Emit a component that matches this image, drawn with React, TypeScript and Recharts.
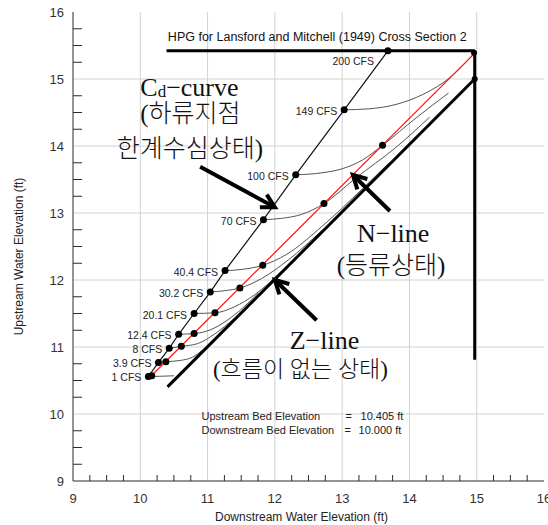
import { ComposedChart, Line, Scatter, XAxis, YAxis, ReferenceLine, ReferenceDot } from 'recharts';

// flow rates with critical-depth (Cd) points and normal-depth (N) points
const flows = ['1 CFS', '3.9 CFS', '8 CFS', '12.4 CFS', '20.1 CFS', '30.2 CFS', '40.4 CFS', '70 CFS', '100 CFS', '149 CFS', '200 CFS'];
const criticalX = [10.12, 10.27, 10.43, 10.57, 10.8, 11.04, 11.26, 11.83, 12.31, 13.03, 13.68];
const criticalY = [10.56, 10.77, 10.98, 11.19, 11.5, 11.82, 12.14, 12.9, 13.57, 14.54, 15.42];
const normalX = [10.17, 10.38, 10.61, 10.8, 11.11, 11.48, 11.82, 12.73, 13.6];
const normalY = [10.57, 10.78, 11.01, 11.2, 11.51, 11.88, 12.22, 13.14, 14.01];

// HPG curves, one per flow
const curve1 = [[10.12, 10.56], [10.17, 10.56], [10.35, 10.565], [10.5, 10.57]];
const curve3_9 = [[10.27, 10.77], [10.38, 10.78], [10.6, 10.8], [10.78, 10.85], [10.92, 10.95]];
const curve8 = [[10.43, 10.98], [10.61, 11.01], [10.85, 11.05], [11.1, 11.19], [11.4, 11.43]];
const curve12_4 = [[10.57, 11.19], [10.8, 11.2], [11.05, 11.26], [11.35, 11.44], [11.75, 11.8]];
const curve20_1 = [[10.8, 11.5], [11.11, 11.51], [11.4, 11.6], [11.7, 11.78], [12.1, 12.13]];
const curve30_2 = [[11.04, 11.82], [11.25, 11.84], [11.48, 11.88], [11.8, 12.02], [12.2, 12.3], [12.7, 12.74]];
const curve40_4 = [[11.26, 12.14], [11.53, 12.16], [11.82, 12.22], [12.17, 12.38], [12.7, 12.8], [13.3, 13.36], [13.7, 13.75]];
const curve70 = [[11.83, 12.9], [12.1, 12.92], [12.4, 12.98], [12.73, 13.14], [13.2, 13.52], [13.8, 13.98], [14.3, 14.43]];
const curve100 = [[12.31, 13.57], [12.7, 13.6], [13.0, 13.66], [13.3, 13.79], [13.6, 14.01], [14.1, 14.42], [14.58, 14.79]];
const curve149 = [[13.03, 14.54], [13.4, 14.555], [13.8, 14.62], [14.2, 14.77], [14.6, 15.02], [14.96, 15.38]];

const nLine = [[10.15, 10.555], [14.96, 15.375]];
const zLine = [[10.405, 10.405], [14.97, 15.0]];
const roadLine = [[10.39, 15.42], [14.97, 15.42]];
const wallLine = [[14.97, 15.42], [14.97, 10.81]];
const extraDots = [[14.96, 15.39], [14.97, 15.0]];

const majorTicks = [9, 10, 11, 12, 13, 14, 15, 16];
const gridValues = [10, 11, 12, 13, 14, 15];

const ticks = majorTicks.flatMap((t) => (t < 16 ? [t, t + 0.25, t + 0.5, t + 0.75] : [t]));
const toPts = (arr: number[][]) => arr.map(([x, y]) => ({ x, y }));
const curves = [curve1, curve3_9, curve8, curve12_4, curve20_1, curve30_2, curve40_4, curve70, curve100, curve149].map(toPts);
const criticalPts = flows.map((label, i) => ({ x: criticalX[i], y: criticalY[i], label }));
const normalPts = normalX.map((x, i) => ({ x, y: normalY[i] }));

const SANS = '"Liberation Sans", Arial, sans-serif';
const SERIF = '"Liberation Serif", "Noto Sans CJK KR Light", "Noto Sans CJK KR DemiLight", "Noto Sans CJK KR", serif';
const AXIS = '#2a2a2a';

const BottomTick = ({ x, y, payload }: any) =>
  Number.isInteger(payload.value) ? (
    <text x={x} y={y + 17} textAnchor="middle" dominantBaseline="central" fontSize={13} fontFamily={SANS} fill="#333">
      {payload.value}
    </text>
  ) : (
    <line x1={x} x2={x} y1={y} y2={y - 6} stroke={AXIS} />
  );

const TopTick = ({ x, y, payload }: any) =>
  Number.isInteger(payload.value) ? <g /> : <line x1={x} x2={x} y1={y} y2={y + 6} stroke={AXIS} />;

const LeftTick = ({ x, y, payload }: any) =>
  Number.isInteger(payload.value) ? (
    <text x={x - 9} y={y} textAnchor="end" dominantBaseline="central" fontSize={13} fontFamily={SANS} fill="#333">
      {payload.value}
    </text>
  ) : (
    <line x1={x} x2={x + 9} y1={y} y2={y} stroke={AXIS} />
  );

const RightTick = ({ x, y, payload }: any) =>
  Number.isInteger(payload.value) ? <g /> : <line x1={x} x2={x - 9} y1={y} y2={y} stroke={AXIS} />;

const CriticalDot = ({ cx, cy, payload }: any) => {
  const top = payload.label === '200 CFS';
  return (
    <g>
      <circle cx={cx} cy={cy} r={3.5} fill="#000" />
      <text
        x={top ? cx - 14 : cx - 7}
        y={top ? cy + 10 : cy + 1}
        textAnchor="end"
        dominantBaseline="central"
        fontSize={10.5}
        fontFamily={SANS}
        fill="#222"
      >
        {payload.label}
      </text>
    </g>
  );
};

const Arrow = ({ x1, y1, x2, y2 }: any) => {
  const a = Math.atan2(y2 - y1, x2 - x1);
  const len = 15;
  const spread = 0.5;
  return (
    <g stroke="#000" strokeWidth={4} strokeLinecap="butt" fill="none">
      <line x1={x1} y1={y1} x2={x2} y2={y2} />
      <polyline
        points={`${x2 - len * Math.cos(a - spread)},${y2 - len * Math.sin(a - spread)} ${x2},${y2} ${x2 - len * Math.cos(a + spread)},${y2 - len * Math.sin(a + spread)}`}
      />
    </g>
  );
};

const note = (text: any, size = 25, anchor = 'start', family = SERIF, weight = 300) => (p: any) => (
  <text
    x={p.cx}
    y={p.cy}
    textAnchor={anchor}
    dominantBaseline="central"
    fontSize={size}
    fontFamily={family}
    fontWeight={weight}
    fill="#111"
  >
    {text}
  </text>
);

const BedText = (p: any) => (
  <g fontSize={11} fontFamily={SANS} fill="#222" dominantBaseline="central">
    <text x={p.cx} y={p.cy}>Upstream Bed Elevation</text>
    <text x={p.cx + 144} y={p.cy}>=</text>
    <text x={p.cx + 159} y={p.cy}>10.405 ft</text>
    <text x={p.cx} y={p.cy + 13.5}>Downstream Bed Elevation</text>
    <text x={p.cx + 143} y={p.cy + 13.5}>=</text>
    <text x={p.cx + 157} y={p.cy + 13.5}>10.000 ft</text>
  </g>
);

export default function App() {
  return (
    <div style={{ position: 'absolute', left: 0, top: 0, background: '#fff' }}>
      <ComposedChart width={548} height={525} margin={{ top: 12, right: 4, bottom: 0, left: 0 }}>
        <XAxis
          type="number"
          dataKey="x"
          domain={[9, 16]}
          ticks={ticks}
          interval={0}
          height={44}
          tickSize={0}
          tickMargin={0}
          tickLine={false}
          axisLine={{ stroke: AXIS }}
          tick={<BottomTick />}
          label={{
            content: ({ viewBox }: any) => (
              <text
                x={viewBox.x + viewBox.width / 2 - 7}
                y={viewBox.y + 36}
                textAnchor="middle"
                dominantBaseline="central"
                fontSize={12}
                fontFamily={SANS}
                fill="#222"
              >
                Downstream Water Elevation (ft)
              </text>
            ),
          }}
        />
        <XAxis
          xAxisId="top"
          orientation="top"
          type="number"
          domain={[9, 16]}
          ticks={ticks}
          interval={0}
          height={0}
          tickSize={0}
          tickMargin={0}
          tickLine={false}
          axisLine={{ stroke: AXIS }}
          tick={<TopTick />}
        />
        <YAxis
          type="number"
          dataKey="y"
          domain={[9, 16]}
          ticks={ticks}
          interval={0}
          width={73}
          tickSize={0}
          tickMargin={0}
          tickLine={false}
          axisLine={{ stroke: AXIS }}
          tick={<LeftTick />}
          label={{
            content: ({ viewBox }: any) => {
              const x = viewBox.x + 19;
              const y = viewBox.y + viewBox.height / 2 + 10;
              return (
                <text
                  x={x}
                  y={y}
                  transform={`rotate(-90 ${x} ${y})`}
                  textAnchor="middle"
                  dominantBaseline="central"
                  fontSize={12}
                  fontFamily={SANS}
                  fill="#222"
                >
                  Upstream Water Elevation (ft)
                </text>
              );
            },
          }}
        />
        <YAxis
          yAxisId="right"
          orientation="right"
          type="number"
          domain={[9, 16]}
          ticks={ticks}
          interval={0}
          width={0}
          tickSize={0}
          tickMargin={0}
          tickLine={false}
          axisLine={{ stroke: AXIS }}
          tick={<RightTick />}
        />

        {gridValues.map((v) => (
          <ReferenceLine key={`gx${v}`} x={v} stroke="#d2d2d2" strokeWidth={1} />
        ))}
        {gridValues.map((v) => (
          <ReferenceLine key={`gy${v}`} y={v} stroke="#d2d2d2" strokeWidth={1} />
        ))}

        {curves.map((pts, i) => (
          <Line
            key={`c${i}`}
            data={pts}
            dataKey="y"
            type="monotone"
            stroke="#555"
            strokeWidth={1}
            dot={false}
            isAnimationActive={false}
          />
        ))}

        <Line data={criticalPts} dataKey="y" type="linear" stroke="#111" strokeWidth={1.2} dot={false} isAnimationActive={false} />
        <Line data={toPts(zLine)} dataKey="y" type="linear" stroke="#000" strokeWidth={3} dot={false} isAnimationActive={false} />
        <Line data={toPts(roadLine)} dataKey="y" type="linear" stroke="#000" strokeWidth={3} dot={false} isAnimationActive={false} />
        <Line data={toPts(wallLine)} dataKey="y" type="linear" stroke="#000" strokeWidth={3} dot={false} isAnimationActive={false} />
        <Line data={toPts(nLine)} dataKey="y" type="linear" stroke="#ff1a1a" strokeWidth={1.3} dot={false} isAnimationActive={false} />

        <Scatter data={normalPts} fill="#000" shape={(p: any) => <circle cx={p.cx} cy={p.cy} r={3.5} fill="#000" />} isAnimationActive={false} />
        <Scatter data={toPts(extraDots)} fill="#000" shape={(p: any) => <circle cx={p.cx} cy={p.cy} r={3} fill="#000" />} isAnimationActive={false} />
        <Scatter data={criticalPts} fill="#000" shape={<CriticalDot />} isAnimationActive={false} />

        <ReferenceDot
          x={12.63}
          y={15.63}
          r={0}
          shape={note('HPG for Lansford and Mitchell (1949) Cross Section 2', 12.5, 'middle', SANS, 400)}
        />
        <ReferenceDot x={10.91} y={9.97} r={0} shape={BedText} />

        <ReferenceDot
          x={10.0}
          y={14.88}
          r={0}
          shape={note(
            <>
              <tspan>C</tspan>
              <tspan fontSize={17} dy={4}>d</tspan>
              <tspan dy={-4}>−curve</tspan>
            </>,
            26,
          )}
        />
        <ReferenceDot x={10.0} y={14.48} r={0} shape={note('(하류지점')} />
        <ReferenceDot x={9.65} y={13.96} r={0} shape={note('한계수심상태)')} />
        <ReferenceDot x={13.22} y={12.7} r={0} shape={note('N−line', 26)} />
        <ReferenceDot x={12.92} y={12.22} r={0} shape={note('(등류상태)')} />
        <ReferenceDot x={12.22} y={11.09} r={0} shape={note('Z−line', 26)} />
        <ReferenceDot x={11.08} y={10.66} r={0} shape={note('(흐름이 없는 상태)', 23)} />

        <ReferenceLine segment={[{ x: 10.89, y: 13.69 }, { x: 12.0, y: 13.085 }]} shape={<Arrow />} />
        <ReferenceLine segment={[{ x: 13.71, y: 13.03 }, { x: 13.16, y: 13.567 }]} shape={<Arrow />} />
        <ReferenceLine segment={[{ x: 12.62, y: 11.4 }, { x: 12.0, y: 12.0 }]} shape={<Arrow />} />
      </ComposedChart>
    </div>
  );
}
